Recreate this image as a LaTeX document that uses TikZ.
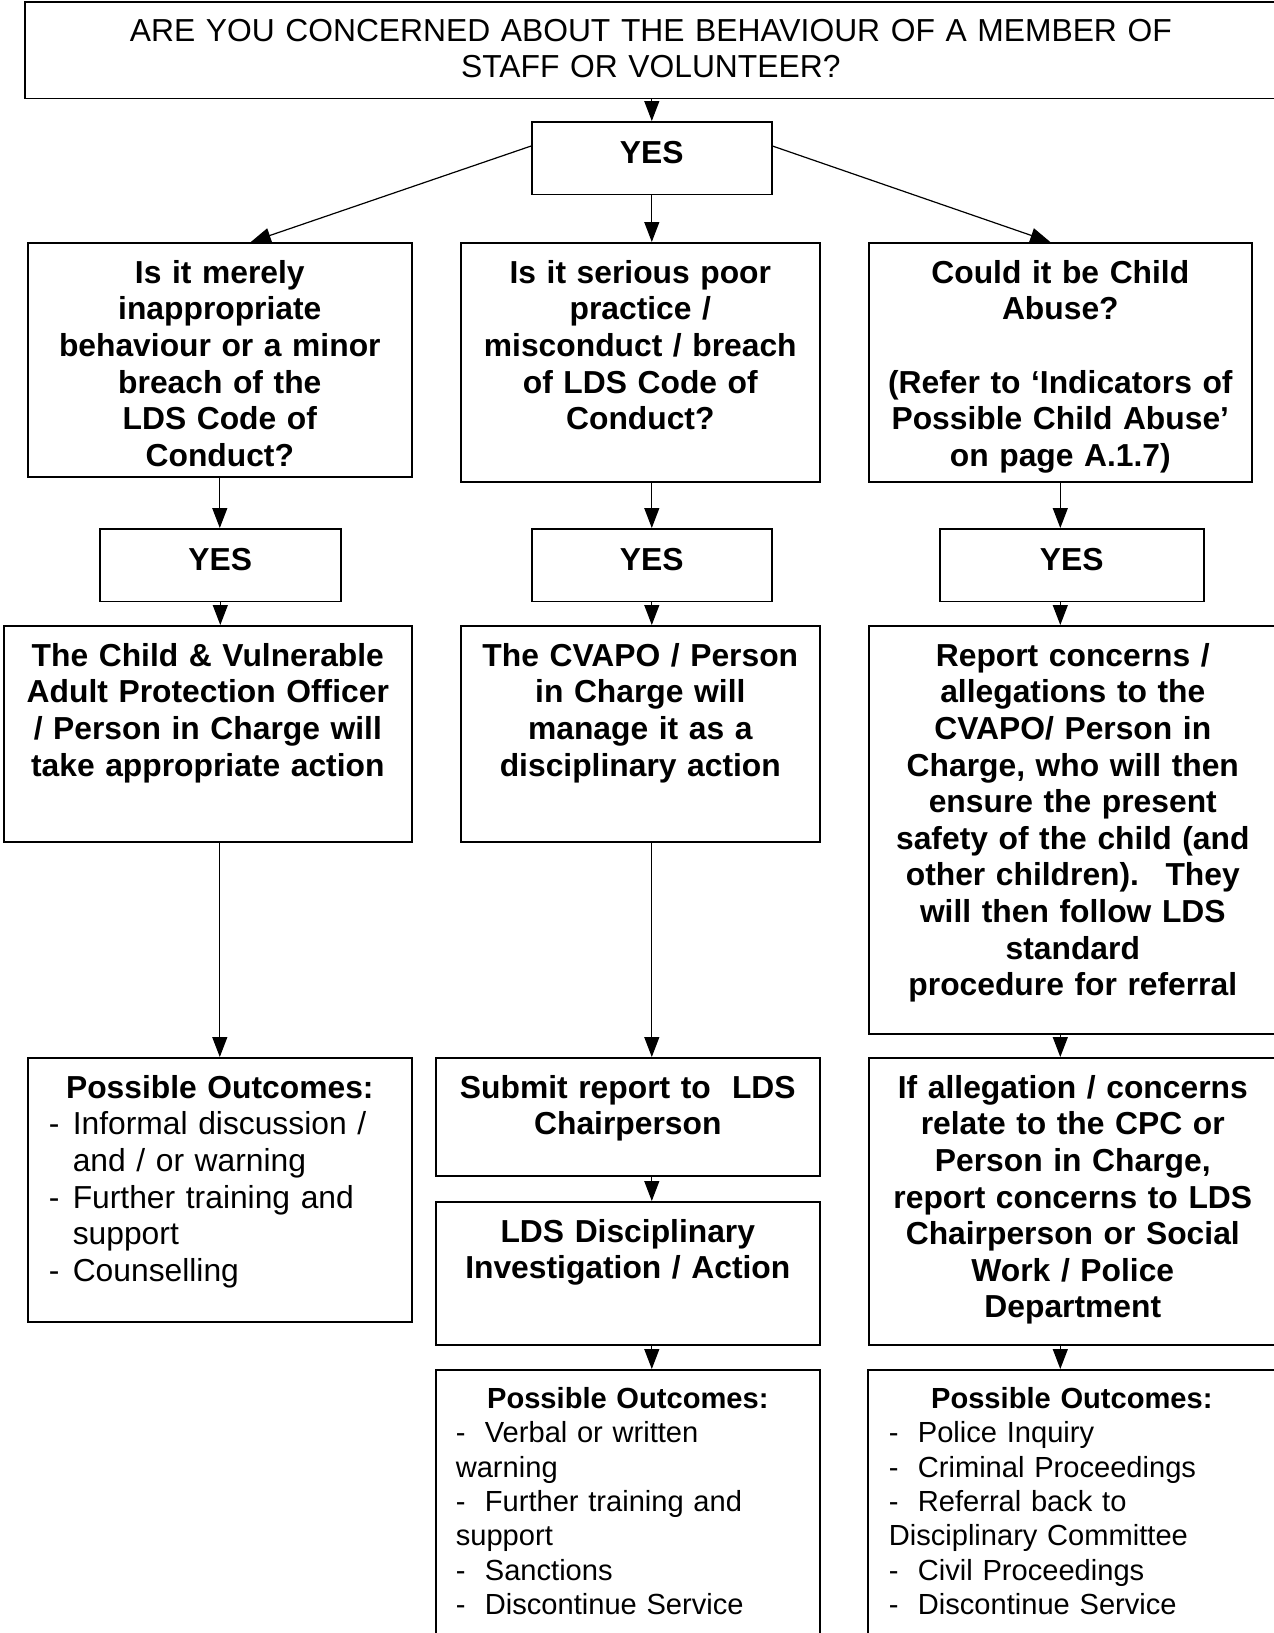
\documentclass[tikz,border=0pt]{standalone}
\usepackage{fontspec}
\setmainfont{Liberation Sans}
\usetikzlibrary{arrows.meta}
\newcommand{\bigtxt}{\fontsize{31.8}{36.6}\selectfont}
\newcommand{\smalltxt}{\fontsize{29.1}{34.4}\selectfont}

\begin{document}
\begin{tikzpicture}[x=1pt, y=-1pt,
    box/.style={draw, line width=1.6pt, anchor=north west, inner xsep=0pt,
      inner ysep=0pt, align=center, text height=40.5pt, font=\bigtxt\bfseries},
    yesbox/.style={box, text height=41.5pt, text depth=31pt},
    arr/.style={line width=1.2pt, -{Triangle[length=20pt,width=15pt]}}]
    \useasboundingbox (0,0) rectangle (1274,1633);

    % Opening question
    \node[box, font=\bigtxt, text width=1252pt, text height=39.5pt, text depth=57pt]
      (title) at (24,1)
      {ARE YOU CONCERNED ABOUT THE BEHAVIOUR OF A MEMBER OF\\
       STAFF OR VOLUNTEER?};
    \node[yesbox, text width=240pt] (yes0) at (531,121) {YES};

    % Three kinds of concern
    \node[box, text width=384pt, text depth=193.5pt] (q1) at (27,242)
      {Is it merely\\ inappropriate\\ behaviour or a minor\\ breach of the\\
       LDS Code of\\ Conduct?};
    \node[box, text width=359pt, text depth=198.5pt] (q2) at (460,242)
      {Is it serious poor\\ practice /\\ misconduct / breach\\ of LDS Code of\\
       Conduct?};
    \node[box, text width=383pt, text depth=198.5pt] (q3) at (868,242)
      {Could it be Child\\ Abuse?\\[36.6pt]
       (Refer to ‘Indicators of\\ Possible Child Abuse’\\ on page A.1.7)};

    \node[yesbox, text width=241pt] (yes1) at (99,528) {YES};
    \node[yesbox, text width=240pt] (yes2) at (531,528) {YES};
    \node[yesbox, text width=264pt] (yes3) at (939,528) {YES};

    % Who acts
    \node[box, text width=408pt, text depth=175.5pt] (a1) at (3,625)
      {The Child \& Vulnerable\\ Adult Protection Officer\\
       / Person in Charge will\\ take appropriate action};
    \node[box, text width=359pt, text depth=175.5pt] (a2) at (460,625)
      {The CVAPO / Person\\ in Charge will\\ manage it as a\\ disciplinary action};
    \node[box, text width=408pt, text depth=367.5pt] (a3) at (868,625)
      {Report concerns /\\ allegations to the\\ CVAPO/ Person in\\
       Charge, who will then\\ ensure the present\\ safety of the child (and\\
       other children).~ They\\ will then follow LDS\\ standard\\
       procedure for referral};

    % Next steps and outcomes
    \node[box, font=\bigtxt, align=left, inner xsep=21pt, text width=342pt,
      text depth=223.5pt] (o1) at (27,1057)
      {\makebox[342pt]{\bfseries Possible Outcomes:}\\
       \makebox[24pt][l]{-}Informal discussion /\\
       \hspace*{24pt}and / or warning\\
       \makebox[24pt][l]{-}Further training and\\
       \hspace*{24pt}support\\
       \makebox[24pt][l]{-}Counselling};
    \node[box, text width=384pt, text depth=77.5pt] (s1) at (435,1057)
      {Submit report to~~LDS\\ Chairperson};
    \node[box, text width=384pt, text depth=102.5pt] (s2) at (435,1201)
      {LDS Disciplinary\\ Investigation / Action};
    \node[box, text width=408pt, text depth=246.5pt] (r1) at (868,1057)
      {If allegation / concerns\\ relate to the CPC or\\ Person in Charge,\\
       report concerns to LDS\\ Chairperson or Social\\ Work / Police\\
       Department};
    \node[box, font=\smalltxt, align=left, inner xsep=20pt, text width=344pt,
      text height=38.5pt, text depth=226.5pt] (o2) at (435,1369)
      {\makebox[344pt]{\bfseries Possible Outcomes:}\\
       -~~Verbal or written\\ warning\\
       -~~Further training and\\ support\\
       -~~Sanctions\\
       -~~Discontinue Service};
    \node[box, font=\smalltxt, align=left, inner xsep=21pt, text width=366pt,
      text height=38.5pt, text depth=226.5pt] (o3) at (867,1369)
      {\makebox[366pt]{\bfseries Possible Outcomes:}\\
       -~~Police Inquiry\\
       -~~Criminal Proceedings\\
       -~~Referral back to\\ Disciplinary Committee\\
       -~~Civil Proceedings\\
       -~~Discontinue Service};

    % Arrows
    \draw[arr] (title.south -| yes0.north) -- (yes0.north);
    \draw[arr] ([yshift=12pt]yes0.west) -- ([xshift=31pt]q1.north);
    \draw[arr] (yes0.south) -- (yes0.south |- q2.north);
    \draw[arr] ([yshift=12pt]yes0.east) -- ([xshift=-10pt]q3.north);

    \draw[arr] (q1.south) -- (q1.south |- yes1.north);
    \draw[arr] (yes2.north |- q2.south) -- (yes2.north);
    \draw[arr] (q3.south) -- (q3.south |- yes3.north);

    \draw[arr] (yes1.south) -- (yes1.south |- a1.north);
    \draw[arr] (yes2.south) -- (yes2.south |- a2.north);
    \draw[arr] (q3.south |- yes3.south) -- (q3.south |- a3.north);

    \draw[arr] (o1.north |- a1.south) -- (o1.north);
    \draw[arr] (yes2.south |- a2.south) -- (yes2.south |- s1.north);
    \draw[arr] (q3.south |- a3.south) -- (q3.south |- r1.north);
    \draw[arr] (yes2.south |- s1.south) -- (yes2.south |- s2.north);
    \draw[arr] (yes2.south |- s2.south) -- (yes2.south |- o2.north);
    \draw[arr] (q3.south |- r1.south) -- (q3.south |- o3.north);
  \end{tikzpicture}
\end{document}
